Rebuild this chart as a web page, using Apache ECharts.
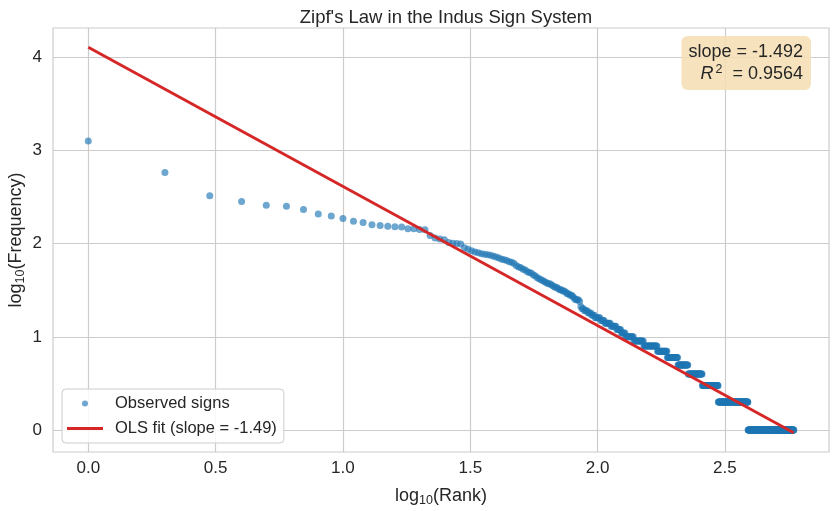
<!DOCTYPE html>
<html>
<head>
<meta charset="utf-8">
<script src="https://cdn.jsdelivr.net/npm/echarts@6/dist/echarts.min.js"></script>
<style>
  html, body { margin: 0; padding: 0; background: #fff; }
  #chart { width: 835px; height: 511px; }
</style>
</head>
<body>
<div id="chart"></div>
<script>
// frequencies of the most common signs, rank 1..102
const topFreqs = [
  1259, 580, 326, 283, 258, 252, 232, 207, 198, 186,
  174, 168, 159, 156, 153, 152, 151, 144, 144, 142,
  141, 122, 115, 112, 110, 103, 101, 100, 99, 90,
  87, 84, 81, 80, 78, 77, 76, 75, 73, 72,
  70, 68, 67, 66, 64, 63, 61, 58, 56, 55,
  53, 52, 50, 49, 48, 46, 45, 43, 42, 41,
  40, 39, 38, 37, 37, 36, 35, 34, 34, 33,
  32, 32, 31, 31, 30, 29, 29, 28, 28, 27,
  26, 25, 25, 25, 24, 21, 20, 20, 19, 19,
  19, 18, 18, 18, 17, 17, 17, 16, 16, 16,
  16, 16
];
// tail: [frequency, number of signs with that frequency]
const tailRuns = [
  [15, 4], [14, 6], [13, 6], [12, 5], [11, 5], [10, 10], [9, 13],
  [8, 20], [7, 16], [6, 19], [5, 20], [4, 31], [3, 40], [2, 92], [1, 200]
];
const fitSlope = -1.492;
const fitIntercept = 4.105;
const rSquared = 0.9564;
const xTicks = [0, 0.5, 1, 1.5, 2, 2.5];
const yTicks = [0, 1, 2, 3, 4];

let freqs = topFreqs.slice();
tailRuns.forEach(function (r) {
  for (let i = 0; i < r[1]; i++) freqs.push(r[0]);
});
const points = freqs.map(function (f, i) {
  return [Math.log10(i + 1), Math.log10(f)];
});
const xMax = Math.log10(freqs.length);
const fitLine = [[0, fitIntercept], [xMax, fitIntercept + fitSlope * xMax]];

// matplotlib style 5% margins
const xPad = 0.05 * xMax;
const yLo = Math.min(0, fitLine[1][1]);
const yPad = 0.05 * (fitIntercept - yLo);

const font = '"Liberation Sans", Arial, sans-serif';
const dark = '#262626';
const gridColor = '#cccccc';

let myChart = echarts.init(document.getElementById('chart'));
const options = {
  backgroundColor: '#fff',
  animation: false,
  textStyle: { fontFamily: font },
  title: {
    text: "Zipf's Law in the Indus Sign System",
    left: 441, top: 3, textAlign: 'center',
    textStyle: { fontFamily: font, fontSize: 18.5, fontWeight: 'normal', color: dark }
  },
  grid: {
    left: 53, right: 6, top: 28, bottom: 59,
    outerBoundsMode: 'none',
    containLabel: false,
    show: true, borderColor: gridColor, borderWidth: 1.2
  },
  legend: {
    left: 62, top: 389, orient: 'vertical',
    itemWidth: 36, itemHeight: 6, itemGap: 8,
    padding: [6, 7, 6, 5],
    backgroundColor: 'rgba(255,255,255,0.85)',
    borderColor: gridColor, borderWidth: 1, borderRadius: 4,
    textStyle: { fontFamily: font, fontSize: 16.5, color: dark, padding: [0, 0, 0, 7] },
    data: [
      { name: 'Observed signs', icon: 'circle' },
      { name: 'OLS fit (slope = -1.49)', icon: 'path://M0,0H40V3.2H0Z' }
    ]
  },
  xAxis: {
    type: 'value',
    min: -xPad, max: xMax + xPad,
    name: 'log{sub|10}(Rank)',
    nameLocation: 'middle', nameGap: 33, nameMoveOverlap: false,
    nameTextStyle: {
      fontFamily: font, fontSize: 18, color: dark,
      rich: { sub: { fontSize: 12.5, color: dark, padding: [9, 0, 0, 0] } }
    },
    axisLine: { show: false },
    axisTick: { show: false, customValues: xTicks },
    axisLabel: {
      customValues: xTicks, color: dark, fontSize: 17, margin: 8,
      formatter: function (v) { return v.toFixed(1); }
    },
    splitLine: { show: true, lineStyle: { color: gridColor, width: 1.2 } }
  },
  yAxis: {
    type: 'value',
    min: yLo - yPad, max: fitIntercept + yPad,
    name: 'log{sub|10}(Frequency)',
    nameLocation: 'middle', nameGap: 26, nameRotate: 90, nameMoveOverlap: false,
    nameTextStyle: {
      fontFamily: font, fontSize: 18, color: dark,
      rich: { sub: { fontSize: 12.5, color: dark, padding: [9, 0, 0, 0] } }
    },
    axisLine: { show: false },
    axisTick: { show: false, customValues: yTicks },
    axisLabel: {
      customValues: yTicks, color: dark, fontSize: 17, margin: 11,
      formatter: function (v) { return String(v); }
    },
    splitLine: { show: true, lineStyle: { color: gridColor, width: 1.2 } }
  },
  graphic: [{
    type: 'text',
    right: 24, top: 36,
    z: 100,
    style: {
      text: '{n|slope = -1.492}\n{it|R}{sup|2}{n|  = ' + rSquared.toFixed(4) + '}',
      align: 'right',
      fontFamily: font, fontSize: 18, fill: dark, lineHeight: 22,
      backgroundColor: 'rgba(245,222,179,0.85)',
      borderRadius: 6,
      padding: [5, 8, 5, 7],
      rich: {
        n: { fontSize: 18, fill: dark, align: 'right' },
        it: { fontStyle: 'italic', fontSize: 18, fill: dark, align: 'right' },
        sup: { fontSize: 12.5, fill: dark, padding: [0, 0, 9, 2], align: 'right' }
      }
    }
  }],
  series: [
    {
      name: 'Observed signs',
      type: 'scatter',
      data: points,
      symbolSize: 7,
      itemStyle: { color: '#1f77b4', opacity: 0.65 },
      z: 2
    },
    {
      name: 'OLS fit (slope = -1.49)',
      type: 'line',
      data: fitLine,
      showSymbol: false,
      lineStyle: { color: '#d62728', width: 3 },
      itemStyle: { color: '#d62728' },
      z: 3
    }
  ]
};
myChart.setOption(options);
window.addEventListener('resize', function () {
  myChart.resize();
});
</script>
</body>
</html>
